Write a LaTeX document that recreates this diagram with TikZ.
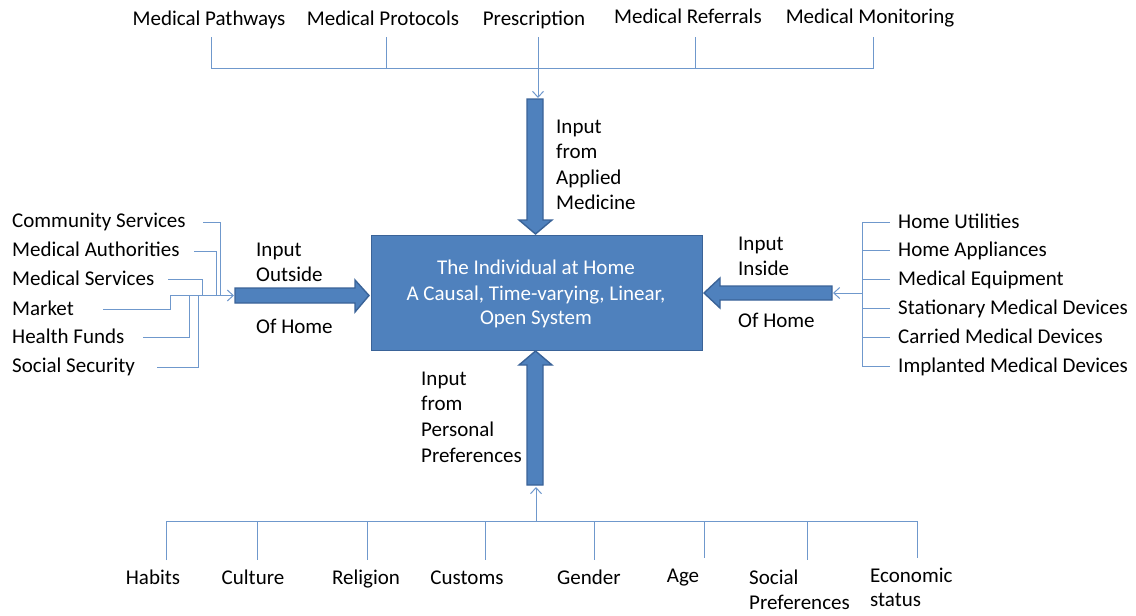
\documentclass[tikz,border=0pt]{standalone}
\usepackage{fontspec}
\setmainfont{Carlito}
\usetikzlibrary{arrows.meta}
\definecolor{boxblue}{HTML}{4F81BD}
\definecolor{boxedge}{HTML}{3A6398}
\definecolor{linkblue}{HTML}{6F98CC}
\tikzset{
  lbl/.style={inner sep=0pt, font=\fontsize{21}{25}\selectfont, text=black},
  wlbl/.style={lbl, text=white},
  link/.style={draw=linkblue, line width=1pt},
  linkarrow/.style={link, -{Straight Barb[length=6pt,width=11pt]}},
  fat/.style={fill=boxblue, draw=boxedge, line width=1.4pt, line join=miter}
}
\begin{document}
\begin{tikzpicture}[x=1pt,y=-1pt]
\useasboundingbox (0,0) rectangle (1136,616);

% ---------------- central box ----------------
\node[fat, draw=boxedge, minimum width=331pt, minimum height=115pt, anchor=north west, inner sep=0pt] (sys) at (371,235) {};
\node[wlbl, anchor=base] (s1) at (536,274.5) {The Individual at Home};
\node[wlbl, anchor=base] (s2) at (536,300.5) {A Causal, Time-varying, Linear,};
\node[wlbl, anchor=base] (s3) at (536,324.5) {Open System};

% ---------------- fat arrows ----------------
% top (down)
\draw[fat] (527,99) -- (543,99) -- (543,220) -- (552,220) -- (535.5,234) -- (519,220) -- (527,220) -- cycle;
% bottom (up)
\draw[fat] (527,485) -- (543,485) -- (543,365) -- (552,365) -- (535.5,351) -- (519,365) -- (527,365) -- cycle;
% left (right-pointing)
\draw[fat] (235,288) -- (355,288) -- (355,280) -- (369,295.5) -- (355,312) -- (355,303) -- (235,303) -- cycle;
% right (left-pointing)
\draw[fat] (832,286) -- (720,286) -- (720,278) -- (704,293) -- (720,308) -- (720,300) -- (832,300) -- cycle;

% ---------------- arrow labels ----------------
\node[lbl, anchor=base west] (ta1) at (556,133.5) {Input};
\node[lbl, anchor=base west] (ta2) at (556,158.5) {from};
\node[lbl, anchor=base west] (ta3) at (556,184.5) {Applied};
\node[lbl, anchor=base west] (ta4) at (556,209.5) {Medicine};

\node[lbl, anchor=base west] (la1) at (256,256.5) {Input};
\node[lbl, anchor=base west] (la2) at (256,281.5) {Outside};
\node[lbl, anchor=base west] (la3) at (256,333.5) {Of Home};

\node[lbl, anchor=base west] (ra1) at (738,250.5) {Input};
\node[lbl, anchor=base west] (ra2) at (738,275.5) {Inside};
\node[lbl, anchor=base west] (ra3) at (738,327.5) {Of Home};

\node[lbl, anchor=base west] (ba1) at (421,385.5) {Input};
\node[lbl, anchor=base west] (ba2) at (421,410.5) {from};
\node[lbl, anchor=base west] (ba3) at (421,436.5) {Personal};
\node[lbl, anchor=base west] (ba4) at (421,462.5) {Preferences};

% ---------------- top tree ----------------
\node[lbl, anchor=base] (mp) at (209,25.5) {Medical Pathways};
\node[lbl, anchor=base] (mpr) at (383,25.5) {Medical Protocols};
\node[lbl, anchor=base] (pre) at (534,25.5) {Prescription};
\node[lbl, anchor=base] (mre) at (688,23.5) {Medical Referrals};
\node[lbl, anchor=base] (mmo) at (870,23.5) {Medical Monitoring};

\coordinate (t1) at (211,37);  \coordinate (t1b) at (211,68);
\coordinate (t2) at (386,37);  \coordinate (t2b) at (386,68);
\coordinate (t3) at (538,37);  \coordinate (t3b) at (538,68);
\coordinate (t4) at (695,37);  \coordinate (t4b) at (695,68);
\coordinate (t5) at (873,37);  \coordinate (t5b) at (873,68);
\coordinate (ttip) at (538,98);
\draw[link] (t1) -- (t1b) -- (t5b) -- (t5);
\draw[link] (t2) -- (t2b);
\draw[link] (t3) -- (t3b);
\draw[link] (t4) -- (t4b);
\draw[linkarrow] (t3b) -- (ttip);

% ---------------- left tree ----------------
\node[lbl, anchor=base west] (cs) at (12,227.5) {Community Services};
\node[lbl, anchor=base west] (ma) at (12,256.5) {Medical Authorities};
\node[lbl, anchor=base west] (ms) at (12,285.5) {Medical Services};
\node[lbl, anchor=base west] (mk) at (12,315.5) {Market};
\node[lbl, anchor=base west] (hf) at (12,343.5) {Health Funds};
\node[lbl, anchor=base west] (ss) at (12,372.5) {Social Security};

\coordinate (lj) at (170,295.5);
\coordinate (ltip) at (234,295.5);
\draw[link] (203,222) -- (220,222) -- (220,295.5);
\draw[link] (194,251) -- (216,251) -- (216,295.5);
\draw[link] (168,279) -- (202,279) -- (202,295.5);
\draw[link] (103,309) -- (170,309) -- (lj);
\draw[link] (143,337) -- (189,337) -- (189,295.5);
\draw[link] (157,367) -- (198,367) -- (198,295.5);
\draw[linkarrow] (lj) -- (ltip);

% ---------------- right tree ----------------
\node[lbl, anchor=base west] (hu) at (898,228.5) {Home Utilities};
\node[lbl, anchor=base west] (ha) at (898,256.5) {Home Appliances};
\node[lbl, anchor=base west] (me) at (898,285.5) {Medical Equipment};
\node[lbl, anchor=base west] (sm) at (898,314.5) {Stationary Medical Devices};
\node[lbl, anchor=base west] (cm) at (898,343.5) {Carried Medical Devices};
\node[lbl, anchor=base west] (im) at (898,372.5) {Implanted Medical Devices};

\coordinate (rj) at (862,293);
\coordinate (rtip) at (833,293);
\draw[link] (862,222) -- (862,366);
\foreach \yy in {222,250,279,308,337,366} \draw[link] (862,\yy) -- (890,\yy);
\draw[linkarrow] (rj) -- (rtip);

% ---------------- bottom tree ----------------
\node[lbl, anchor=base] (hab) at (153,584.5) {Habits};
\node[lbl, anchor=base] (cul) at (253,584.5) {Culture};
\node[lbl, anchor=base] (rel) at (366,584.5) {Religion};
\node[lbl, anchor=base] (cus) at (467,584.5) {Customs};
\node[lbl, anchor=base] (gen) at (589,584.5) {Gender};
\node[lbl, anchor=base] (age) at (683,582.5) {Age};
\node[lbl, anchor=base west] (sp1) at (749,584.5) {Social};
\node[lbl, anchor=base west] (sp2) at (749,609.5) {Preferences};
\node[lbl, anchor=base west] (ec1) at (870,582.5) {Economic};
\node[lbl, anchor=base west] (ec2) at (870,606.5) {status};

\coordinate (bj) at (536,521);
\coordinate (btip) at (536,487);
\draw[link] (166,560) -- (166,521) -- (917,521) -- (917,558);
\foreach \xx/\yb in {257/560,367/560,485/560,594/560,704/558,807/560} \draw[link] (\xx,521) -- (\xx,\yb);
\draw[linkarrow] (bj) -- (btip);

\end{tikzpicture}
\end{document}
